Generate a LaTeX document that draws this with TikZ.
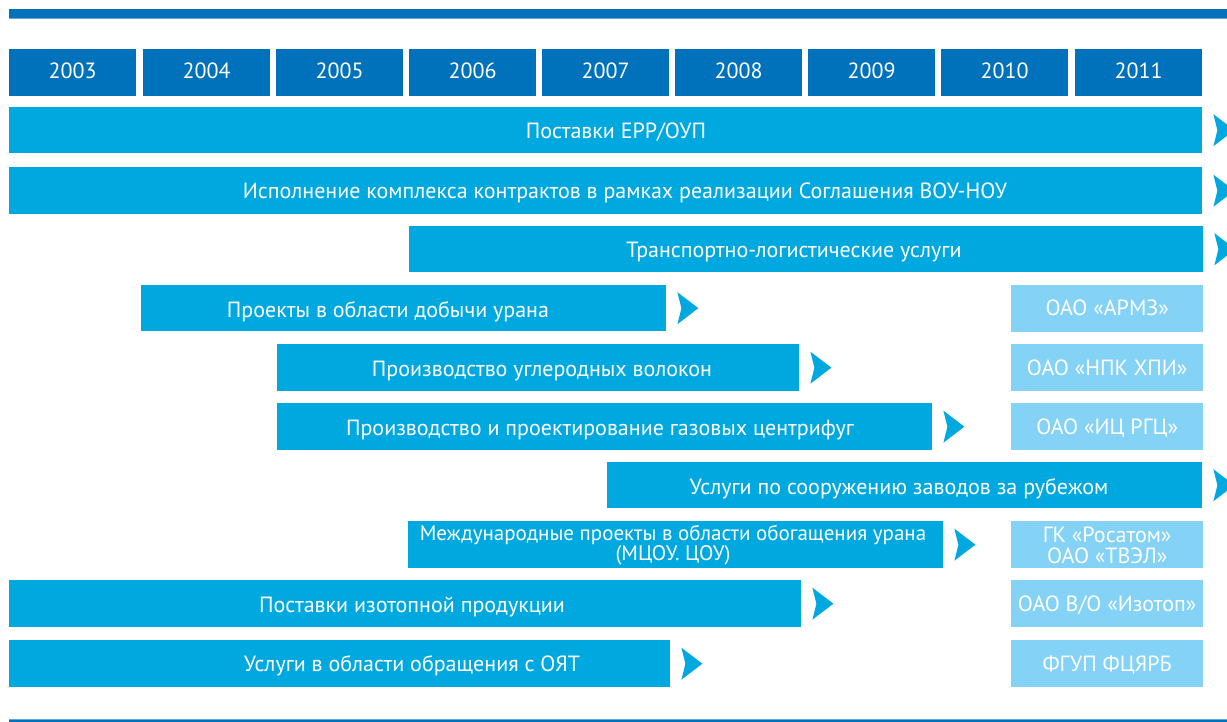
\documentclass[tikz,border=0pt]{standalone}
\usepackage{fontspec}
\setmainfont{PT Sans}
\usetikzlibrary{calc}
\definecolor{yearblue}{RGB}{0,114,188}
\definecolor{barblue}{RGB}{0,168,224}
\definecolor{lightblue}{RGB}{132,210,245}
\definecolor{edgeblue}{RGB}{100,165,215}
\newcommand\tightlns{\lineskiplimit=-100pt\relax}
\tikzset{
  yearbox/.style={fill=yearblue, text=white, anchor=north west, inner sep=0pt,
    minimum width=127pt, minimum height=47pt, text height=15.5pt, text depth=4pt,
    font=\fontsize{22}{19}\selectfont},
  barbox/.style={fill=barblue, anchor=north west, inner sep=0pt, minimum height=#1},
  barbox/.default=46pt,
  bartext/.style={text=white, inner sep=0pt, align=center, anchor=base,
    font=\fontsize{22}{18}\selectfont\tightlns},
  orgbox/.style={fill=lightblue, anchor=north west, inner sep=0pt,
    minimum width=192pt, minimum height=47pt},
  orgtext/.style={text=white, inner sep=0pt, align=center, anchor=base,
    font=\fontsize{22}{21.5}\selectfont\tightlns},
  chev/.pic={\fill[barblue] (0,-16) -- (21,0) -- (0,16) -- (4,0) -- cycle;}
}
\begin{document}
\begin{tikzpicture}[x=1pt,y=-1pt]
\clip (0,0) rectangle (1227,722);
\fill[white] (0,0) rectangle (1227,722);
% top and bottom rules
\fill[yearblue] (9,9) rectangle (1227,19);
\draw[edgeblue, line width=1pt] (9,19) -- (1227,19);
\fill[yearblue] (9,719) rectangle (1227,722);
\draw[edgeblue, line width=1pt] (9,719.5) -- (1227,719.5);
% years
\node[yearbox] (y2003) at (9,49) {2003};
\node[yearbox] (y2004) at (143,49) {2004};
\node[yearbox] (y2005) at (276,49) {2005};
\node[yearbox] (y2006) at (409,49) {2006};
\node[yearbox] (y2007) at (542,49) {2007};
\node[yearbox] (y2008) at (675,49) {2008};
\node[yearbox] (y2009) at (808,49) {2009};
\node[yearbox] (y2010) at (941,49) {2010};
\node[yearbox] (y2011) at (1075,49) {2011};
% bars
\node[barbox, minimum width=1193pt] (b1) at (9,107) {};
\node[bartext] (t1) at (616,139) {Поставки ЕРР/ОУП};
\node[barbox=47pt, minimum width=1193pt] (b2) at (9,167) {};
\node[bartext] (t2) at (625,199) {Исполнение комплекса контрактов в рамках реализации Соглашения ВОУ-НОУ};
\node[barbox, minimum width=794pt] (b3) at (409,226) {};
\node[bartext] (t3) at (794,258) {Транспортно-логистические услуги};
\node[barbox, minimum width=525pt] (b4) at (141,285) {};
\node[bartext] (t4) at (388,317) {Проекты в области добычи урана};
\node[barbox=47pt, minimum width=522pt] (b5) at (277,344) {};
\node[bartext] (t5) at (542,376) {Производство углеродных волокон};
\node[barbox=47pt, minimum width=655pt] (b6) at (277,403) {};
\node[bartext] (t6) at (600,435) {Производство и проектирование газовых центрифуг};
\node[barbox, minimum width=595pt] (b7) at (607,462) {};
\node[bartext] (t7) at (899,494) {Услуги по сооружению заводов за рубежом};
\node[barbox=47pt, minimum width=535pt] (b8) at (408,521) {};
\node[bartext, font=\fontsize{21}{20}\selectfont\tightlns] (t8) at (673,560.5)
  {Международные проекты в области обогащения урана\\(МЦОУ. ЦОУ)};
\node[barbox=47pt, minimum width=792pt] (b9) at (9,580) {};
\node[bartext] (t9) at (412,612) {Поставки изотопной продукции};
\node[barbox=47pt, minimum width=661pt] (b10) at (9,640) {};
\node[bartext] (t10) at (412,671.5) {Услуги в области обращения с ОЯТ};
% chevrons
\foreach \b in {b1,b2,b3,b4,b5,b6,b7,b8,b9,b10}
  \pic at ($(\b.east)+(11,0)$) {chev};
% organisations
\node[orgbox] (o4) at (1011,285) {};
\node[orgtext] at ($(o4.north)+(0,31)$) {ОАО «АРМЗ»};
\node[orgbox] (o5) at (1011,344) {};
\node[orgtext] at ($(o5.north)+(0,31)$) {ОАО «НПК ХПИ»};
\node[orgbox] (o6) at (1011,403) {};
\node[orgtext] at ($(o6.north)+(0,31)$) {ОАО «ИЦ РГЦ»};
\node[orgbox] (o8) at (1011,521) {};
\node[orgtext] at ($(o8.north)+(0,42.5)$) {ГК «Росатом»\\ОАО «ТВЭЛ»};
\node[orgbox] (o9) at (1011,580) {};
\node[orgtext] at ($(o9.north)+(0,31)$) {ОАО В/О «Изотоп»};
\node[orgbox] (o10) at (1011,640) {};
\node[orgtext] at ($(o10.north)+(0,31)$) {ФГУП ФЦЯРБ};
\end{tikzpicture}
\end{document}
